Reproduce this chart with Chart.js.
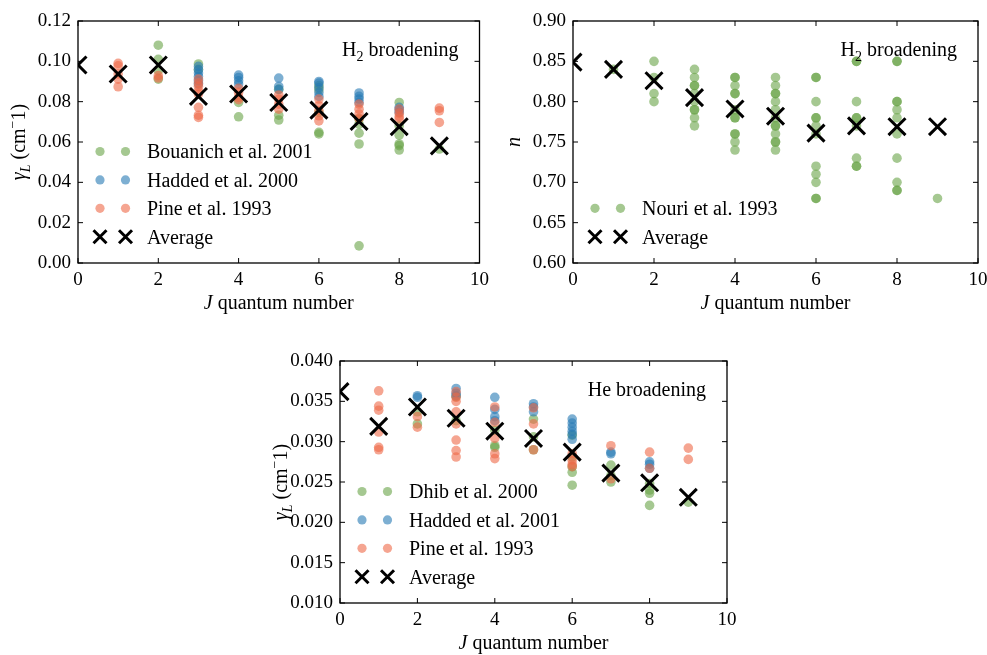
<!DOCTYPE html>
<html>
<head>
<meta charset="utf-8">
<script src="https://cdn.jsdelivr.net/npm/chart.js@4"></script>
<style>
  html, body { margin: 0; padding: 0; background: #fff; overflow: hidden; }
  body { width: 987px; height: 655px; position: relative; }
  canvas { position: absolute; }
</style>
</head>
<body>
<canvas id="h2Gamma" width="495" height="320" style="left:0;top:0"></canvas>
<canvas id="h2N" width="500" height="320" style="left:495px;top:0"></canvas>
<canvas id="heGamma" width="490" height="320" style="left:262px;top:340px"></canvas>
<script>
// J values of the averages (0..9)
const avgJ = [0, 1, 2, 3, 4, 5, 6, 7, 8, 9];

// --- H2 broadening, gamma_L (cm-1)
const h2AvgGamma = [0.0982, 0.0937, 0.0982, 0.0826, 0.0838, 0.0796, 0.0758, 0.0702, 0.0676, 0.0581];
const bouanichJ = [2, 2, 2, 2, 3, 3, 4, 4, 5, 5, 5, 6, 6, 6, 6, 6, 7, 7, 7, 7, 7, 8, 8, 8, 8, 8, 8, 9];
const bouanichGamma = [0.108, 0.101, 0.0954, 0.0912, 0.0987, 0.096, 0.0796, 0.0725, 0.0862, 0.0733, 0.0709,
  0.088, 0.086, 0.0747, 0.0648, 0.064, 0.0714, 0.0689, 0.0644, 0.059, 0.0085,
  0.0796, 0.068, 0.0634, 0.059, 0.0582, 0.056, 0.0565];
const haddedH2J = [3, 3, 3, 3, 3, 3, 4, 4, 4, 4, 5, 5, 5, 6, 6, 6, 6, 6, 7, 7, 7, 7, 8, 8, 8];
const haddedH2Gamma = [0.0975, 0.0958, 0.0942, 0.0925, 0.0904, 0.0887, 0.0932, 0.092, 0.0904, 0.0887,
  0.0917, 0.0876, 0.086, 0.09, 0.0892, 0.087, 0.0846, 0.0826, 0.0843, 0.0826, 0.0813, 0.0796,
  0.0772, 0.076, 0.0747];
const pineH2J = [1, 1, 1, 1, 1, 2, 2, 3, 3, 3, 3, 3, 3, 3, 3, 4, 4, 4, 4, 5, 5, 5, 5,
  6, 6, 6, 6, 6, 7, 7, 7, 7, 8, 8, 8, 8, 9, 9, 9];
const pineH2Gamma = [0.099, 0.0978, 0.0937, 0.0912, 0.0874, 0.0929, 0.0917,
  0.0912, 0.0892, 0.0876, 0.0854, 0.0838, 0.0772, 0.0733, 0.0722,
  0.0866, 0.0846, 0.0821, 0.081, 0.0833, 0.0813, 0.0788, 0.0763,
  0.0813, 0.078, 0.0755, 0.073, 0.0705, 0.0788, 0.0763, 0.0739, 0.0717,
  0.0763, 0.0743, 0.0727, 0.0714, 0.0768, 0.0755, 0.0697];

// --- H2 broadening, temperature exponent n
const h2AvgN = [0.849, 0.840, 0.826, 0.805, 0.791, 0.782, 0.761, 0.770, 0.769, 0.769];
const nouriJ = [1, 2, 2, 2, 2,
  3, 3, 3, 3, 3, 3, 3, 3, 3, 3,
  4, 4, 4, 4, 4, 4, 4, 4, 4, 4, 4, 4,
  5, 5, 5, 5, 5, 5, 5, 5, 5, 5, 5, 5, 5,
  6, 6, 6, 6, 6, 6, 6, 6, 6, 6, 6, 6,
  7, 7, 7, 7, 7, 7, 7, 7, 7,
  8, 8, 8, 8, 8, 8, 8, 8, 8, 8, 8, 9];
const nouriN = [0.84, 0.85, 0.83, 0.81, 0.80,
  0.84, 0.83, 0.82, 0.82, 0.81, 0.80, 0.79, 0.79, 0.78, 0.77,
  0.83, 0.83, 0.82, 0.81, 0.81, 0.79, 0.78, 0.78, 0.76, 0.76, 0.75, 0.74,
  0.83, 0.82, 0.81, 0.81, 0.80, 0.79, 0.78, 0.77, 0.77, 0.76, 0.75, 0.75, 0.74,
  0.83, 0.83, 0.80, 0.78, 0.78, 0.77, 0.76, 0.72, 0.71, 0.70, 0.68, 0.68,
  0.85, 0.85, 0.80, 0.78, 0.78, 0.77, 0.73, 0.72, 0.72,
  0.85, 0.85, 0.80, 0.80, 0.79, 0.78, 0.76, 0.73, 0.70, 0.69, 0.69, 0.68];

// --- He broadening, gamma_L (cm-1)
const heAvgGamma = [0.0362, 0.0319, 0.0343, 0.0329, 0.0313, 0.0304, 0.0287, 0.0261, 0.0249, 0.0231];
const dhibJ = [2, 2, 3, 3, 4, 4, 4, 5, 5, 5, 6, 6, 6, 6, 6, 7, 7, 7, 8, 8, 8, 8, 9];
const dhibGamma = [0.0337, 0.0322, 0.0356, 0.0326, 0.0314, 0.0295, 0.0293, 0.0328, 0.0306, 0.029,
  0.0308, 0.0281, 0.0269, 0.0262, 0.0246, 0.0271, 0.0258, 0.025,
  0.0248, 0.024, 0.0236, 0.0221, 0.0225];
const haddedHeJ = [2, 2, 3, 3, 3, 4, 4, 4, 4, 5, 5, 5, 6, 6, 6, 6, 6, 6, 7, 7, 8, 8, 8];
const haddedHeGamma = [0.0357, 0.0355, 0.0366, 0.036, 0.0357, 0.0355, 0.034, 0.0331, 0.0326,
  0.0347, 0.0343, 0.0337, 0.0328, 0.0323, 0.0318, 0.0313, 0.0309, 0.0303,
  0.0287, 0.0285, 0.0275, 0.0272, 0.0267];
const pineHeJ = [1, 1, 1, 1, 1, 1, 2, 2, 3, 3, 3, 3, 3, 3, 3, 3, 4, 4, 4, 4, 4, 5, 5, 5,
  6, 6, 6, 6, 7, 7, 8, 8, 9, 9];
const pineHeGamma = [0.0363, 0.0344, 0.0339, 0.0312, 0.0293, 0.029, 0.0331, 0.0318,
  0.0362, 0.0355, 0.035, 0.0337, 0.0322, 0.0302, 0.0289, 0.0281,
  0.0343, 0.0324, 0.0304, 0.0285, 0.0279, 0.0342, 0.0322, 0.029,
  0.0285, 0.0277, 0.0272, 0.0269, 0.0295, 0.0254, 0.0287, 0.0267, 0.0292, 0.0278];

// tick labels
const xTicks = [0, 2, 4, 6, 8, 10];

const GREEN = 'rgba(105,163,72,0.6)';
const BLUE = 'rgba(38,122,180,0.6)';
const ORANGE = 'rgba(238,105,72,0.6)';
const FONT = '"Liberation Serif", "Times New Roman", serif';
const FS = 19;   // tick labels
const TS = 20;   // titles, legend, panel labels

function pts(js, vals) {
  return js.map((j, i) => ({ x: j, y: vals[i] }));
}

function dots(label, js, vals, color, order) {
  return {
    label: label, data: pts(js, vals), order: order, clip: 0,
    backgroundColor: color, borderWidth: 0,
    pointRadius: 4.8, pointHoverRadius: 4.8
  };
}

function avgSet(vals) {
  return {
    label: 'Average', data: pts(avgJ, vals), order: 0, clip: 0,
    pointStyle: 'crossRot', pointRadius: 12, pointHoverRadius: 12,
    borderColor: '#000', borderWidth: 3, backgroundColor: '#000'
  };
}

// text with italic / sub / sup parts
function drawRich(ctx, parts, x, y, align) {
  const fontOf = p => (p.i ? 'italic ' : '') + ((p.sub || p.sup) ? TS * 0.7 : TS) + 'px ' + FONT;
  let w = 0;
  parts.forEach(p => { ctx.font = fontOf(p); w += ctx.measureText(p.t).width; });
  let cx = align === 'center' ? x - w / 2 : align === 'right' ? x - w : x;
  ctx.textAlign = 'left';
  ctx.textBaseline = 'alphabetic';
  ctx.fillStyle = '#000';
  parts.forEach(p => {
    ctx.font = fontOf(p);
    const dy = p.sub ? TS * 0.25 : p.sup ? -TS * 0.42 : 0;
    ctx.fillText(p.t, cx, y + dy);
    cx += ctx.measureText(p.t).width;
  });
}

const decor = {
  id: 'decor',
  afterDraw(chart, args, opts) {
    const ctx = chart.ctx;
    const a = chart.chartArea;
    const xs = chart.scales.x, ys = chart.scales.y;
    ctx.save();
    // frame
    ctx.strokeStyle = '#000';
    ctx.lineWidth = 1.3;
    ctx.strokeRect(a.left, a.top, a.right - a.left, a.bottom - a.top);
    // inward ticks on every side
    ctx.lineWidth = 1;
    ctx.beginPath();
    xs.ticks.forEach(t => {
      const px = xs.getPixelForValue(t.value);
      ctx.moveTo(px, a.bottom); ctx.lineTo(px, a.bottom - 5);
      ctx.moveTo(px, a.top); ctx.lineTo(px, a.top + 5);
    });
    ys.ticks.forEach(t => {
      const py = ys.getPixelForValue(t.value);
      ctx.moveTo(a.left, py); ctx.lineTo(a.left + 5, py);
      ctx.moveTo(a.right, py); ctx.lineTo(a.right - 5, py);
    });
    ctx.stroke();

    // axis titles
    drawRich(ctx, [{ t: 'J', i: true }, { t: ' quantum number' }], (a.left + a.right) / 2, a.bottom + 46, 'center');
    ctx.save();
    ctx.translate(a.left - 59, (a.top + a.bottom) / 2);
    ctx.rotate(-Math.PI / 2);
    drawRich(ctx, opts.yTitle, 0, 6, 'center');
    ctx.restore();

    // panel label
    drawRich(ctx, opts.label, a.right - 21, a.top + 35, 'right');

    // legend, two markers per entry
    const n = opts.legend.length;
    opts.legend.forEach((e, k) => {
      const y = a.bottom - 26.3 - (n - 1 - k) * 28.4;
      [a.left + 22, a.left + 47.5].forEach(mx => {
        if (e.x) {
          ctx.strokeStyle = '#000';
          ctx.lineWidth = 3;
          ctx.beginPath();
          ctx.moveTo(mx - 6.5, y - 6.5); ctx.lineTo(mx + 6.5, y + 6.5);
          ctx.moveTo(mx - 6.5, y + 6.5); ctx.lineTo(mx + 6.5, y - 6.5);
          ctx.stroke();
        } else {
          ctx.fillStyle = e.color;
          ctx.beginPath();
          ctx.arc(mx, y, 4.6, 0, Math.PI * 2);
          ctx.fill();
        }
      });
      drawRich(ctx, [{ t: e.text }], a.left + 69, y + 6.8, 'left');
    });
    ctx.restore();
  }
};

function makeChart(id, datasets, yMin, yMax, yStep, digits, padRight, decorOpts) {
  const ctx = document.getElementById(id).getContext('2d');
  return new Chart(ctx, {
    type: 'scatter',
    data: { datasets: datasets },
    options: {
      responsive: false,
      animation: false,
      devicePixelRatio: 1,
      layout: { padding: { left: 0, top: 21, right: padRight, bottom: 0 } },
      plugins: {
        legend: { display: false },
        tooltip: { enabled: false },
        decor: decorOpts
      },
      scales: {
        x: {
          type: 'linear', min: 0, max: 10,
          grid: { display: false, drawTicks: false },
          border: { display: false },
          ticks: { stepSize: 2, padding: 6, color: '#000', font: { family: FONT, size: FS },
            callback: v => (xTicks.includes(v) ? String(v) : '') },
          afterFit: s => { s.height = 57; }
        },
        y: {
          type: 'linear', min: yMin, max: yMax,
          grid: { display: false, drawTicks: false },
          border: { display: false },
          ticks: { stepSize: yStep, padding: 7, color: '#000', font: { family: FONT, size: FS },
            callback: v => v.toFixed(digits) },
          afterFit: s => { s.width = 78; }
        }
      }
    },
    plugins: [decor]
  });
}

const gammaTitle = [{ t: 'γ', i: true }, { t: 'L', i: true, sub: true }, { t: ' (cm' }, { t: '−', sup: true }, { t: '1)' }];

makeChart('h2Gamma', [
  dots('Bouanich et al. 2001', bouanichJ, bouanichGamma, GREEN, 3),
  dots('Hadded et al. 2000', haddedH2J, haddedH2Gamma, BLUE, 2),
  dots('Pine et al. 1993', pineH2J, pineH2Gamma, ORANGE, 1),
  avgSet(h2AvgGamma)
], 0, 0.12, 0.02, 2, 13, {
  yTitle: gammaTitle,
  label: [{ t: 'H' }, { t: '2', sub: true }, { t: ' broadening' }],
  legend: [
    { color: GREEN, text: 'Bouanich et al. 2001' },
    { color: BLUE, text: 'Hadded et al. 2000' },
    { color: ORANGE, text: 'Pine et al. 1993' },
    { x: true, text: 'Average' }
  ]
});

makeChart('h2N', [
  dots('Nouri et al. 1993', nouriJ, nouriN, GREEN, 1),
  avgSet(h2AvgN)
], 0.6, 0.9, 0.05, 2, 17, {
  yTitle: [{ t: 'n', i: true }],
  label: [{ t: 'H' }, { t: '2', sub: true }, { t: ' broadening' }],
  legend: [
    { color: GREEN, text: 'Nouri et al. 1993' },
    { x: true, text: 'Average' }
  ]
});

makeChart('heGamma', [
  dots('Dhib et al. 2000', dhibJ, dhibGamma, GREEN, 3),
  dots('Hadded et al. 2001', haddedHeJ, haddedHeGamma, BLUE, 2),
  dots('Pine et al. 1993', pineHeJ, pineHeGamma, ORANGE, 1),
  avgSet(heAvgGamma)
], 0.01, 0.04, 0.005, 3, 25, {
  yTitle: gammaTitle,
  label: [{ t: 'He broadening' }],
  legend: [
    { color: GREEN, text: 'Dhib et al. 2000' },
    { color: BLUE, text: 'Hadded et al. 2001' },
    { color: ORANGE, text: 'Pine et al. 1993' },
    { x: true, text: 'Average' }
  ]
});
</script>
</body>
</html>
